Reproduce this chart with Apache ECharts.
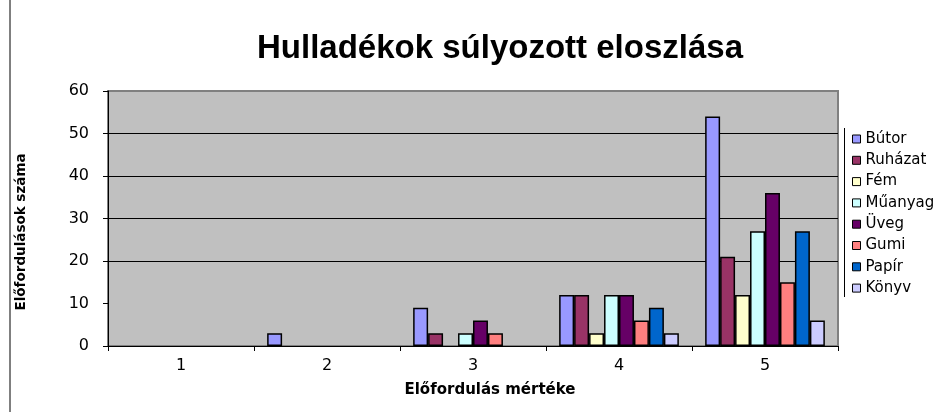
<!DOCTYPE html>
<html>
<head>
<meta charset="utf-8">
<script src="https://cdn.jsdelivr.net/npm/echarts@6/dist/echarts.min.js"></script>
<style>
html, body { margin: 0; padding: 0; background: #fff; }
#chart { width: 939px; height: 412px; }
</style>
</head>
<body>
<div id="chart"></div>
<script>
// adatok
var categories = ['1', '2', '3', '4', '5'];
var seriesNames = ['Bútor', 'Ruházat', 'Fém', 'Műanyag', 'Üveg', 'Gumi', 'Papír', 'Könyv'];
var butor = [0, 3, 9, 12, 54];
var ruhazat = [0, 0, 3, 12, 21];
var fem = [0, 0, 0, 3, 12];
var muanyag = [0, 0, 3, 12, 27];
var uveg = [0, 0, 6, 12, 36];
var gumi = [0, 0, 3, 6, 15];
var papir = [0, 0, 0, 9, 27];
var konyv = [0, 0, 0, 3, 6];
var colors = ['#9999FF', '#993366', '#FFFFCC', '#CCFFFF', '#660066', '#FF8080', '#0066CC', '#CCCCFF'];

var values = [butor, ruhazat, fem, muanyag, uveg, gumi, papir, konyv];

var myChart = echarts.init(document.getElementById('chart'), null, { renderer: 'canvas' });

var series = seriesNames.map(function (name, i) {
    return {
        name: name,
        type: 'bar',
        // a nulla értékű oszlopok nem látszanak
        data: values[i].map(function (v) { return v === 0 ? '-' : v; }),
        barGap: '0%',
        barCategoryGap: '18%',
        itemStyle: {
            color: colors[i],
            borderColor: '#000',
            borderWidth: 1.5
        }
    };
});

var option = {
    animation: false,
    title: {
        text: 'Hulladékok súlyozott eloszlása',
        left: 495,
        textAlign: 'center',
        top: 27,
        textStyle: {
            fontFamily: 'Liberation Sans, Arial, sans-serif',
            fontSize: 33,
            fontWeight: 'bold',
            color: '#000'
        }
    },
    legend: {
        orient: 'vertical',
        left: 852,
        top: 131.5,
        padding: 0,
        itemWidth: 8,
        itemHeight: 8,
        itemGap: 6.3,
        icon: 'rect',
        itemStyle: { borderColor: '#000', borderWidth: 1 },
        textStyle: {
            fontFamily: 'DejaVu Sans, sans-serif',
            fontSize: 15,
            lineHeight: 15,
            color: '#000'
        },
        data: seriesNames
    },
    grid: {
        left: 108,
        right: 101,
        top: 91,
        bottom: 66,
        show: true,
        backgroundColor: '#C0C0C0',
        borderColor: '#808080',
        borderWidth: 2
    },
    xAxis: {
        type: 'category',
        data: categories,
        axisLine: { lineStyle: { color: '#000', width: 1 } },
        axisTick: { show: true, length: 5, lineStyle: { color: '#000' } },
        axisLabel: {
            margin: 12,
            fontFamily: 'DejaVu Sans, sans-serif',
            fontSize: 16,
            color: '#000'
        }
    },
    yAxis: {
        type: 'value',
        min: 0,
        max: 60,
        interval: 10,
        axisLine: { show: true, lineStyle: { color: '#000', width: 1 } },
        axisTick: { show: true, length: 5, lineStyle: { color: '#000' } },
        axisLabel: {
            margin: 19,
            fontFamily: 'DejaVu Sans, sans-serif',
            fontSize: 16,
            color: '#000'
        },
        splitLine: {
            show: true,
            lineStyle: {
                color: ['transparent', 'transparent', '#000', '#000', '#000', '#000', 'transparent'],
                width: 1
            }
        }
    },
    graphic: [
        {
            type: 'line',
            shape: { x1: 10, y1: 0, x2: 10, y2: 412 },
            style: { stroke: '#000', lineWidth: 1 }
        },
        {
            type: 'line',
            shape: { x1: 844.5, y1: 128, x2: 844.5, y2: 297 },
            style: { stroke: '#000', lineWidth: 1 }
        },
        {
            // y tengely címe
            type: 'text',
            x: 21,
            y: 232,
            rotation: Math.PI / 2,
            style: {
                text: 'Előfordulások száma',
                fontFamily: 'DejaVu Sans, sans-serif',
                fontSize: 13.5,
                fontWeight: 'bold',
                fill: '#000',
                align: 'center',
                verticalAlign: 'middle'
            }
        },
        {
            // x tengely címe
            type: 'text',
            x: 490,
            y: 390,
            style: {
                text: 'Előfordulás mértéke',
                fontFamily: 'DejaVu Sans, sans-serif',
                fontSize: 15,
                fontWeight: 'bold',
                fill: '#000',
                align: 'center',
                verticalAlign: 'middle'
            }
        }
    ],
    series: series
};

myChart.setOption(option);
window.addEventListener('resize', myChart.resize);
</script>
</body>
</html>
